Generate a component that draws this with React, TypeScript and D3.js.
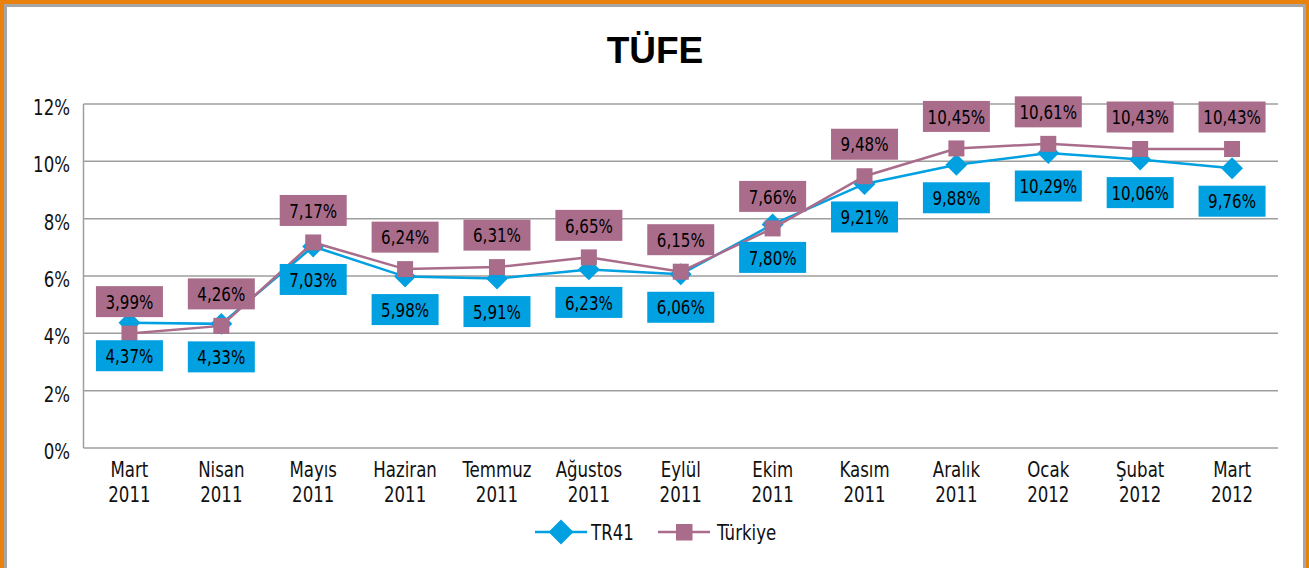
import React, { useEffect, useRef } from 'react';
import * as d3 from 'd3';

const categories = [
  ['Mart', '2011'], ['Nisan', '2011'], ['Mayıs', '2011'], ['Haziran', '2011'],
  ['Temmuz', '2011'], ['Ağustos', '2011'], ['Eylül', '2011'], ['Ekim', '2011'],
  ['Kasım', '2011'], ['Aralık', '2011'], ['Ocak', '2012'], ['Şubat', '2012'], ['Mart', '2012'],
];
const tr41 = [4.37, 4.33, 7.03, 5.98, 5.91, 6.23, 6.06, 7.80, 9.21, 9.88, 10.29, 10.06, 9.76];
const turkiye = [3.99, 4.26, 7.17, 6.24, 6.31, 6.65, 6.15, 7.66, 9.48, 10.45, 10.61, 10.43, 10.43];
const yTicks = [0, 2, 4, 6, 8, 10, 12];

const WIDTH = 1309;
const HEIGHT = 568;
const BLUE = '#00A0E1';
const MAUVE = '#A96D8B';
const FONT = '"DejaVu Sans Condensed", "Liberation Sans Narrow", sans-serif';
const SX = 0.84; // squeeze text horizontally, the original font is narrow

const fmt = (v: number) => v.toFixed(2).replace('.', ',') + '%';

const App: React.FC = () => {
  const ref = useRef<SVGSVGElement | null>(null);

  useEffect(() => {
    document.body.style.margin = '0';
    if (!ref.current) return;
    const svg = d3.select(ref.current);
    svg.selectAll('*').remove();

    // frame
    svg.append('rect').attr('x', 0).attr('y', 0).attr('width', WIDTH).attr('height', HEIGHT + 20).attr('fill', '#E8820C');
    svg.append('rect').attr('x', 4).attr('y', 4).attr('width', 1302).attr('height', HEIGHT + 20).attr('fill', '#A6A6A6');
    svg.append('rect').attr('x', 7).attr('y', 7).attr('width', 1296).attr('height', HEIGHT + 20).attr('fill', '#fff');

    svg.append('text')
      .attr('x', 655).attr('y', 63)
      .attr('text-anchor', 'middle')
      .style('font-family', 'Arial, "Liberation Sans", sans-serif')
      .style('font-weight', 'bold')
      .style('font-size', '37px')
      .text('TÜFE');

    const x = d3.scaleBand<number>()
      .domain(d3.range(categories.length))
      .range([83.5, 1278]);
    const cx = (i: number) => (x(i) as number) + x.bandwidth() / 2;
    const y = d3.scaleLinear().domain([0, 12]).range([448, 104]);

    // grid
    svg.append('g').selectAll('line')
      .data(yTicks)
      .join('line')
      .attr('x1', 83.5).attr('x2', 1278)
      .attr('y1', d => y(d)).attr('y2', d => y(d))
      .attr('stroke', '#9E9E9E').attr('stroke-width', 1.5);
    svg.append('line')
      .attr('x1', 83.5).attr('x2', 83.5).attr('y1', y(12)).attr('y2', y(0))
      .attr('stroke', '#9E9E9E').attr('stroke-width', 1.5);

    svg.append('g').selectAll('text')
      .data(yTicks)
      .join('text')
      .attr('transform', d => `translate(70,${y(d) + 11}) scale(${SX},1)`)
      .attr('text-anchor', 'end')
      .style('font-family', FONT).style('font-size', '22px')
      .attr('fill', '#111')
      .text(d => d + '%');

    const xl = svg.append('g').selectAll('text')
      .data(categories)
      .join('text')
      .attr('transform', (_, i) => `translate(${cx(i)},0) scale(${SX},1)`)
      .attr('text-anchor', 'middle')
      .style('font-family', FONT).style('font-size', '22px')
      .attr('fill', '#111');
    xl.append('tspan').attr('x', 0).attr('y', 477).text(d => d[0]);
    xl.append('tspan').attr('x', 0).attr('y', 502).text(d => d[1]);

    const line = d3.line<number>().x((_, i) => cx(i)).y(d => y(d));
    const diamond = d3.symbol(d3.symbolDiamond2, 1)() as string;

    // TR41
    svg.append('path').datum(tr41).attr('d', line)
      .attr('fill', 'none').attr('stroke', BLUE).attr('stroke-width', 2.5);
    svg.append('g').selectAll('path')
      .data(tr41)
      .join('path')
      .attr('d', diamond)
      .attr('transform', (d, i) => `translate(${cx(i)},${y(d)}) scale(17.5)`)
      .attr('fill', BLUE);

    // Türkiye
    svg.append('path').datum(turkiye).attr('d', line)
      .attr('fill', 'none').attr('stroke', MAUVE).attr('stroke-width', 2.5);
    svg.append('g').selectAll('rect')
      .data(turkiye)
      .join('rect')
      .attr('x', (_, i) => cx(i) - 8).attr('y', d => y(d) - 8)
      .attr('width', 16).attr('height', 16)
      .attr('fill', MAUVE);

    // data labels
    const addLabels = (vals: number[], color: string, off: number) => {
      const g = svg.append('g').selectAll('g')
        .data(vals)
        .join('g')
        .attr('transform', (d, i) => `translate(${cx(i)},${y(d) + off})`);
      g.append('rect')
        .attr('x', -33.5).attr('y', -15.5).attr('width', 67).attr('height', 31)
        .attr('fill', color);
      g.append('text')
        .attr('transform', `scale(${SX},1)`)
        .attr('text-anchor', 'middle').attr('dy', '0.36em')
        .style('font-family', FONT).style('font-size', '20px')
        .attr('fill', '#000')
        .text(d => fmt(d));
    };
    addLabels(turkiye, MAUVE, -32);
    addLabels(tr41, BLUE, 33);

    // legend
    const lg = svg.append('g');
    lg.append('line').attr('x1', 535).attr('x2', 587).attr('y1', 532).attr('y2', 532)
      .attr('stroke', BLUE).attr('stroke-width', 2.5);
    lg.append('path')
      .attr('d', diamond)
      .attr('transform', 'translate(561,532) scale(20)')
      .attr('fill', BLUE);
    lg.append('text').attr('transform', `translate(591,540) scale(${SX},1)`)
      .style('font-family', FONT).style('font-size', '22px').attr('fill', '#111')
      .text('TR41');
    lg.append('line').attr('x1', 658).attr('x2', 710).attr('y1', 532).attr('y2', 532)
      .attr('stroke', MAUVE).attr('stroke-width', 2.5);
    lg.append('rect').attr('x', 676).attr('y', 524).attr('width', 16.5).attr('height', 16.5)
      .attr('fill', MAUVE);
    lg.append('text').attr('transform', `translate(717,540) scale(${SX},1)`)
      .style('font-family', FONT).style('font-size', '22px').attr('fill', '#111')
      .text('Türkiye');
  }, []);

  return <svg ref={ref} width={WIDTH} height={HEIGHT} style={{ display: 'block' }} />;
};

export default App;
